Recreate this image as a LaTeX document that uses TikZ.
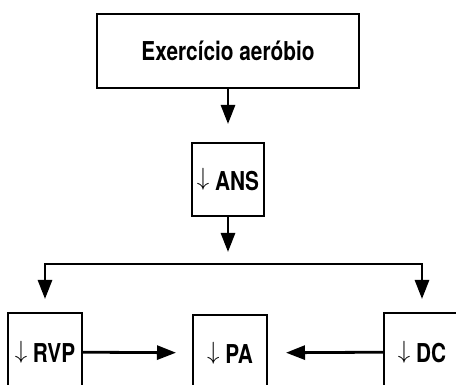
\documentclass[tikz,border=0pt]{standalone}
\usepackage{fontspec}
\setmainfont{TeX Gyre Heros}[FakeStretch=0.8]
\usetikzlibrary{arrows.meta}
\newcommand{\desce}{\raisebox{0.18em}{$\downarrow$}}

\begin{document}
\begin{tikzpicture}[
    x=1pt, y=-1pt,
    >={Triangle[length=19pt,width=14pt]},
    every node/.style={font=\bfseries\fontsize{26}{30}\selectfont},
    caixa/.style={draw, line width=2pt, inner sep=0pt, fill=white},
    seta/.style={->, line width=2.8pt}
]
    \useasboundingbox (0,0) rectangle (456,385);
    \clip (0,0) rectangle (456,385);

    % === TOPO ===
    \node[caixa, minimum width=262pt, minimum height=74pt] (exercicio) at (228,51) {Exercício aeróbio};
    \node[caixa, minimum width=72pt, minimum height=73pt] (ans) at (228,179.5) {\desce{} ANS};
    \coordinate (divisao) at (228,264);

    % === BASE (cortada pela borda) ===
    \node[caixa, minimum width=74pt, minimum height=78pt] (rvp) at (45,352) {\desce{} RVP};
    \node[caixa, minimum width=74pt, minimum height=76pt] (pa) at (230,353) {\desce{} PA};
    \node[caixa, minimum width=76pt, minimum height=78pt] (dc) at (422,352) {\desce{} DC};

    % Setas
    \draw[seta, shorten >=18pt] (exercicio) -- (ans);
    \draw[seta, shorten >=12pt] (ans) -- (divisao);
    \draw[seta, shorten >=13pt] (divisao) -| (rvp);
    \draw[seta, shorten >=13pt] (divisao) -| (dc);
    \draw[seta, shorten >=16pt] (rvp) -- (pa);
    \draw[seta, shorten >=18pt] (dc) -- (pa);
\end{tikzpicture}
\end{document}
